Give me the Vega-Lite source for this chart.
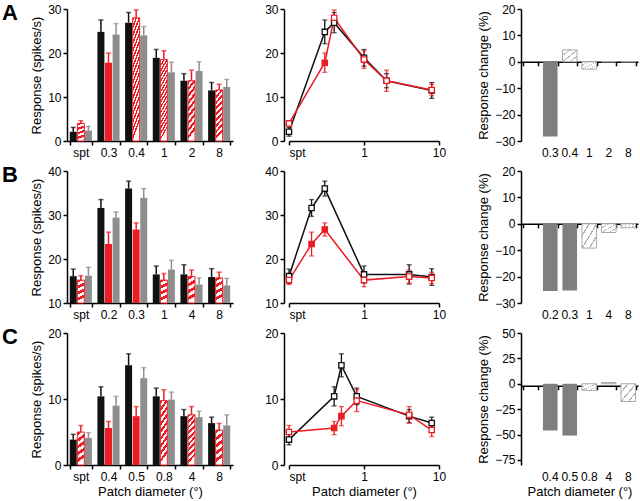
{
"$schema":"https://vega.github.io/schema/vega-lite/v6.json",
"padding":{"left":2,"top":2,"right":2,"bottom":2},
"background":"white",
"config":{
 "view":{"stroke":null},
 "font":"Liberation Sans",
 "axis":{"domainColor":"#000","domainWidth":1.5,"tickColor":"#000","tickWidth":1.5,"tickSize":4,"labelColor":"#000","labelFontSize":12,"labelPadding":2,"titleFontSize":13,"titleFontWeight":"normal","titleColor":"#000","grid":false,"labelFlush":false,"labelOverlap":false},
 "title":{"color":"#000"}
},
"datasets":{
 "A":[
  {"cond":"Pre","size":"spt","d":0.1,"mean":2.1,"lo":1.1,"hi":3.1,"sig":false},
  {"cond":"Pre","size":"0.3","d":0.3,"mean":24.8,"lo":22.1,"hi":27.5,"sig":false},
  {"cond":"Pre","size":"0.4","d":0.4,"mean":26.9,"lo":24.6,"hi":29.2,"sig":false},
  {"cond":"Pre","size":"1","d":1,"mean":18.9,"lo":17.0,"hi":20.8,"sig":false},
  {"cond":"Pre","size":"2","d":2,"mean":13.7,"lo":12.1,"hi":15.3,"sig":false},
  {"cond":"Pre","size":"8","d":8,"mean":11.5,"lo":9.7,"hi":13.3,"sig":false},
  {"cond":"Inact","size":"spt","d":0.1,"mean":4.0,"lo":3.4,"hi":4.6,"sig":false},
  {"cond":"Inact","size":"0.3","d":0.3,"mean":17.8,"lo":15.6,"hi":20.0,"sig":true},
  {"cond":"Inact","size":"0.4","d":0.4,"mean":28.0,"lo":26.2,"hi":29.8,"sig":false},
  {"cond":"Inact","size":"1","d":1,"mean":18.5,"lo":16.5,"hi":20.5,"sig":false},
  {"cond":"Inact","size":"2","d":2,"mean":13.7,"lo":11.3,"hi":16.1,"sig":false},
  {"cond":"Inact","size":"8","d":8,"mean":11.6,"lo":10.3,"hi":12.9,"sig":false},
  {"cond":"Rec","size":"spt","d":0.1,"mean":2.4,"lo":1.5,"hi":3.3,"sig":false},
  {"cond":"Rec","size":"0.3","d":0.3,"mean":24.2,"lo":21.7,"hi":26.7,"sig":false},
  {"cond":"Rec","size":"0.4","d":0.4,"mean":24.0,"lo":22.0,"hi":26.0,"sig":false},
  {"cond":"Rec","size":"1","d":1,"mean":15.6,"lo":13.3,"hi":17.9,"sig":false},
  {"cond":"Rec","size":"2","d":2,"mean":15.9,"lo":13.8,"hi":18.0,"sig":false},
  {"cond":"Rec","size":"8","d":8,"mean":12.3,"lo":10.6,"hi":14.0,"sig":false}
 ],
 "B":[
  {"cond":"Pre","size":"spt","d":0.1,"mean":16.1,"lo":14.5,"hi":17.7,"sig":false},
  {"cond":"Pre","size":"0.2","d":0.2,"mean":31.6,"lo":29.7,"hi":33.5,"sig":false},
  {"cond":"Pre","size":"0.3","d":0.3,"mean":36.0,"lo":34.3,"hi":37.7,"sig":false},
  {"cond":"Pre","size":"1","d":1,"mean":16.5,"lo":14.6,"hi":18.4,"sig":false},
  {"cond":"Pre","size":"4","d":4,"mean":16.5,"lo":14.3,"hi":18.7,"sig":false},
  {"cond":"Pre","size":"8","d":8,"mean":15.9,"lo":14.0,"hi":17.8,"sig":false},
  {"cond":"Inact","size":"spt","d":0.1,"mean":15.2,"lo":14.2,"hi":16.2,"sig":false},
  {"cond":"Inact","size":"0.2","d":0.2,"mean":23.4,"lo":20.7,"hi":26.1,"sig":true},
  {"cond":"Inact","size":"0.3","d":0.3,"mean":26.7,"lo":25.2,"hi":28.2,"sig":true},
  {"cond":"Inact","size":"1","d":1,"mean":15.2,"lo":13.7,"hi":16.7,"sig":false},
  {"cond":"Inact","size":"4","d":4,"mean":16.0,"lo":14.5,"hi":17.5,"sig":false},
  {"cond":"Inact","size":"8","d":8,"mean":15.7,"lo":14.4,"hi":17.0,"sig":false},
  {"cond":"Rec","size":"spt","d":0.1,"mean":16.2,"lo":14.3,"hi":18.1,"sig":false},
  {"cond":"Rec","size":"0.2","d":0.2,"mean":29.4,"lo":28.1,"hi":30.7,"sig":false},
  {"cond":"Rec","size":"0.3","d":0.3,"mean":33.9,"lo":31.8,"hi":36.0,"sig":false},
  {"cond":"Rec","size":"1","d":1,"mean":17.6,"lo":15.5,"hi":19.7,"sig":false},
  {"cond":"Rec","size":"4","d":4,"mean":14.2,"lo":12.7,"hi":15.7,"sig":false},
  {"cond":"Rec","size":"8","d":8,"mean":14.0,"lo":12.4,"hi":15.6,"sig":false}
 ],
 "C":[
  {"cond":"Pre","size":"spt","d":0.1,"mean":3.85,"lo":3.05,"hi":4.65,"sig":false},
  {"cond":"Pre","size":"0.4","d":0.4,"mean":10.4,"lo":8.95,"hi":11.85,"sig":false},
  {"cond":"Pre","size":"0.5","d":0.5,"mean":15.1,"lo":13.35,"hi":16.85,"sig":false},
  {"cond":"Pre","size":"0.8","d":0.8,"mean":10.4,"lo":9.15,"hi":11.65,"sig":false},
  {"cond":"Pre","size":"4","d":4,"mean":7.4,"lo":6.4,"hi":8.4,"sig":false},
  {"cond":"Pre","size":"8","d":8,"mean":6.35,"lo":5.45,"hi":7.25,"sig":false},
  {"cond":"Inact","size":"spt","d":0.1,"mean":5.0,"lo":4.0,"hi":6.0,"sig":false},
  {"cond":"Inact","size":"0.4","d":0.4,"mean":5.6,"lo":4.6,"hi":6.6,"sig":true},
  {"cond":"Inact","size":"0.5","d":0.5,"mean":7.4,"lo":5.95,"hi":8.85,"sig":true},
  {"cond":"Inact","size":"0.8","d":0.8,"mean":9.75,"lo":8.1,"hi":11.4,"sig":false},
  {"cond":"Inact","size":"4","d":4,"mean":7.6,"lo":6.35,"hi":8.85,"sig":false},
  {"cond":"Inact","size":"8","d":8,"mean":5.3,"lo":4.3,"hi":6.3,"sig":false},
  {"cond":"Rec","size":"spt","d":0.1,"mean":4.1,"lo":3.3,"hi":4.9,"sig":false},
  {"cond":"Rec","size":"0.4","d":0.4,"mean":9.0,"lo":7.6,"hi":10.4,"sig":false},
  {"cond":"Rec","size":"0.5","d":0.5,"mean":13.15,"lo":11.55,"hi":14.75,"sig":false},
  {"cond":"Rec","size":"0.8","d":0.8,"mean":9.9,"lo":8.75,"hi":11.05,"sig":false},
  {"cond":"Rec","size":"4","d":4,"mean":7.25,"lo":6.35,"hi":8.15,"sig":false},
  {"cond":"Rec","size":"8","d":8,"mean":6.0,"lo":4.4,"hi":7.6,"sig":false}
 ],
 "Ach":[
  {"size":"0.3","change":-28.3,"sig":true},
  {"size":"0.4","change":4.5,"sig":false},
  {"size":"1","change":-2.8,"sig":false},
  {"size":"2","change":0,"sig":false},
  {"size":"8","change":0,"sig":false}
 ],
 "Bch":[
  {"size":"0.2","change":-25.5,"sig":true},
  {"size":"0.3","change":-25.3,"sig":true},
  {"size":"1","change":-9.2,"sig":false},
  {"size":"4","change":-3.3,"sig":false},
  {"size":"8","change":-1.5,"sig":false}
 ],
 "Cch":[
  {"size":"0.4","change":-46,"sig":true},
  {"size":"0.5","change":-51,"sig":true},
  {"size":"0.8","change":-6.5,"sig":false},
  {"size":"4","change":1.2,"sig":false},
  {"size":"8","change":-17.5,"sig":false}
 ]
},
"columns":3,
"spacing":{"row":6,"column":31},
"concat":[
 {
  "width":166,"height":132,
  "title":{"text":"A","anchor":"start","frame":"group","fontSize":22,"fontWeight":"bold","dx":-65,"baseline":"top","offset":-22},
  "data":{"name":"A"},
  "encoding":{
   "x":{"field":"size","type":"nominal","scale":{"domain":["spt","0.3","0.4","1","2","8"],"paddingInner":0.2,"paddingOuter":0.1},"axis":{"title":null,"labelAngle":0,"tickBand":"extent"}},
   "xOffset":{"field":"cond","type":"nominal","scale":{"domain":["Pre","Inact","Rec"],"paddingInner":0.08}}
  },
  "layer":[
   {"transform":[{"filter":"datum.cond != 'Inact' || datum.sig"}],"mark":{"type":"bar"},"encoding":{"y":{"field":"mean","type":"quantitative","scale":{"domain":[0,30]},"axis":{"values":[0,10,20,30],"title":"Response (spikes/s)"}},"color":{"field":"cond","type":"nominal","scale":{"domain":["Pre","Inact","Rec"],"range":["#111111","#ed1c24","#8e8e8e"]},"legend":null}}},
   {"transform":[{"filter":"datum.cond == 'Inact' && !datum.sig && indexof(['0.4','1'], datum.size) >= 0"}],"mark":{"type":"bar","stroke":"#ed1c24","strokeWidth":1,"fill":{"gradient":"linear","x1":0,"y1":0,"x2":0.15,"y2":1,"stops":[{"offset":0,"color":"#ed1c24"},{"offset":0.03125,"color":"#ed1c24"},{"offset":0.03125,"color":"#fff"},{"offset":0.0625,"color":"#fff"},{"offset":0.0625,"color":"#ed1c24"},{"offset":0.09375,"color":"#ed1c24"},{"offset":0.09375,"color":"#fff"},{"offset":0.125,"color":"#fff"},{"offset":0.125,"color":"#ed1c24"},{"offset":0.15625,"color":"#ed1c24"},{"offset":0.15625,"color":"#fff"},{"offset":0.1875,"color":"#fff"},{"offset":0.1875,"color":"#ed1c24"},{"offset":0.21875,"color":"#ed1c24"},{"offset":0.21875,"color":"#fff"},{"offset":0.25,"color":"#fff"},{"offset":0.25,"color":"#ed1c24"},{"offset":0.28125,"color":"#ed1c24"},{"offset":0.28125,"color":"#fff"},{"offset":0.3125,"color":"#fff"},{"offset":0.3125,"color":"#ed1c24"},{"offset":0.34375,"color":"#ed1c24"},{"offset":0.34375,"color":"#fff"},{"offset":0.375,"color":"#fff"},{"offset":0.375,"color":"#ed1c24"},{"offset":0.40625,"color":"#ed1c24"},{"offset":0.40625,"color":"#fff"},{"offset":0.4375,"color":"#fff"},{"offset":0.4375,"color":"#ed1c24"},{"offset":0.46875,"color":"#ed1c24"},{"offset":0.46875,"color":"#fff"},{"offset":0.5,"color":"#fff"},{"offset":0.5,"color":"#ed1c24"},{"offset":0.53125,"color":"#ed1c24"},{"offset":0.53125,"color":"#fff"},{"offset":0.5625,"color":"#fff"},{"offset":0.5625,"color":"#ed1c24"},{"offset":0.59375,"color":"#ed1c24"},{"offset":0.59375,"color":"#fff"},{"offset":0.625,"color":"#fff"},{"offset":0.625,"color":"#ed1c24"},{"offset":0.65625,"color":"#ed1c24"},{"offset":0.65625,"color":"#fff"},{"offset":0.6875,"color":"#fff"},{"offset":0.6875,"color":"#ed1c24"},{"offset":0.71875,"color":"#ed1c24"},{"offset":0.71875,"color":"#fff"},{"offset":0.75,"color":"#fff"},{"offset":0.75,"color":"#ed1c24"},{"offset":0.78125,"color":"#ed1c24"},{"offset":0.78125,"color":"#fff"},{"offset":0.8125,"color":"#fff"},{"offset":0.8125,"color":"#ed1c24"},{"offset":0.84375,"color":"#ed1c24"},{"offset":0.84375,"color":"#fff"},{"offset":0.875,"color":"#fff"},{"offset":0.875,"color":"#ed1c24"},{"offset":0.90625,"color":"#ed1c24"},{"offset":0.90625,"color":"#fff"},{"offset":0.9375,"color":"#fff"},{"offset":0.9375,"color":"#ed1c24"},{"offset":0.96875,"color":"#ed1c24"},{"offset":0.96875,"color":"#fff"},{"offset":1,"color":"#fff"}]}},"encoding":{"y":{"field":"mean","type":"quantitative"}}},
   {"transform":[{"filter":"datum.cond == 'Inact' && !datum.sig && indexof(['2','8'], datum.size) >= 0"}],"mark":{"type":"bar","stroke":"#ed1c24","strokeWidth":1,"fill":{"gradient":"linear","x1":0,"y1":0,"x2":0.15,"y2":1,"stops":[{"offset":0,"color":"#ed1c24"},{"offset":0.0556,"color":"#ed1c24"},{"offset":0.0556,"color":"#fff"},{"offset":0.1111,"color":"#fff"},{"offset":0.1111,"color":"#ed1c24"},{"offset":0.1667,"color":"#ed1c24"},{"offset":0.1667,"color":"#fff"},{"offset":0.2222,"color":"#fff"},{"offset":0.2222,"color":"#ed1c24"},{"offset":0.2778,"color":"#ed1c24"},{"offset":0.2778,"color":"#fff"},{"offset":0.3333,"color":"#fff"},{"offset":0.3333,"color":"#ed1c24"},{"offset":0.3889,"color":"#ed1c24"},{"offset":0.3889,"color":"#fff"},{"offset":0.4444,"color":"#fff"},{"offset":0.4444,"color":"#ed1c24"},{"offset":0.5,"color":"#ed1c24"},{"offset":0.5,"color":"#fff"},{"offset":0.5556,"color":"#fff"},{"offset":0.5556,"color":"#ed1c24"},{"offset":0.6111,"color":"#ed1c24"},{"offset":0.6111,"color":"#fff"},{"offset":0.6667,"color":"#fff"},{"offset":0.6667,"color":"#ed1c24"},{"offset":0.7222,"color":"#ed1c24"},{"offset":0.7222,"color":"#fff"},{"offset":0.7778,"color":"#fff"},{"offset":0.7778,"color":"#ed1c24"},{"offset":0.8333,"color":"#ed1c24"},{"offset":0.8333,"color":"#fff"},{"offset":0.8889,"color":"#fff"},{"offset":0.8889,"color":"#ed1c24"},{"offset":0.9444,"color":"#ed1c24"},{"offset":0.9444,"color":"#fff"},{"offset":1,"color":"#fff"}]}},"encoding":{"y":{"field":"mean","type":"quantitative"}}},
   {"transform":[{"filter":"datum.cond == 'Inact' && !datum.sig && indexof(['spt'], datum.size) >= 0"}],"mark":{"type":"bar","stroke":"#ed1c24","strokeWidth":1,"fill":{"gradient":"linear","x1":0,"y1":0,"x2":0.15,"y2":1,"stops":[{"offset":0,"color":"#ed1c24"},{"offset":0.125,"color":"#ed1c24"},{"offset":0.125,"color":"#fff"},{"offset":0.25,"color":"#fff"},{"offset":0.25,"color":"#ed1c24"},{"offset":0.375,"color":"#ed1c24"},{"offset":0.375,"color":"#fff"},{"offset":0.5,"color":"#fff"},{"offset":0.5,"color":"#ed1c24"},{"offset":0.625,"color":"#ed1c24"},{"offset":0.625,"color":"#fff"},{"offset":0.75,"color":"#fff"},{"offset":0.75,"color":"#ed1c24"},{"offset":0.875,"color":"#ed1c24"},{"offset":0.875,"color":"#fff"},{"offset":1,"color":"#fff"}]}},"encoding":{"y":{"field":"mean","type":"quantitative"}}},
   {"mark":{"type":"rule","strokeWidth":1.5},"encoding":{"y":{"field":"mean","type":"quantitative"},"y2":{"field":"hi"},"color":{"field":"cond","type":"nominal","legend":null}}},
   {"mark":{"type":"tick","orient":"horizontal","size":5,"thickness":1.5},"encoding":{"y":{"field":"hi","type":"quantitative"},"color":{"field":"cond","type":"nominal","legend":null}}}
  ]
 },
 {
  "width":150,"height":132,
  "data":{"name":"A"},
  "transform":[{"filter":"datum.cond != 'Rec'"}],
  "encoding":{"x":{"field":"d","type":"quantitative","scale":{"type":"log","domain":[0.1,10]},"axis":{"title":null,"values":[0.1,1,10],"labelExpr":"datum.value < 0.5 ? 'spt' : datum.label","labelAlign":{"condition":{"test":"datum.value < 0.5","value":"left"},"value":"center"}}}},
  "layer":[
   {"mark":{"type":"line","strokeWidth":1.5},"encoding":{"y":{"field":"mean","type":"quantitative","scale":{"domain":[0,30]},"axis":{"values":[0,10,20,30],"title":null,"offset":5}},"color":{"field":"cond","type":"nominal","scale":{"domain":["Pre","Inact","Rec"],"range":["#111111","#ed1c24","#8e8e8e"]},"legend":null}}},
   {"mark":{"type":"rule","strokeWidth":1.3},"encoding":{"y":{"field":"lo","type":"quantitative"},"y2":{"field":"hi"},"color":{"field":"cond","type":"nominal","legend":null}}},
   {"mark":{"type":"tick","orient":"horizontal","size":5,"thickness":1.3},"encoding":{"y":{"field":"hi","type":"quantitative"},"color":{"field":"cond","type":"nominal","legend":null}}},
   {"mark":{"type":"tick","orient":"horizontal","size":5,"thickness":1.3},"encoding":{"y":{"field":"lo","type":"quantitative"},"color":{"field":"cond","type":"nominal","legend":null}}},
   {"mark":{"type":"point","shape":"square","filled":true,"fill":"white","size":28,"strokeWidth":1.3,"opacity":1},"encoding":{"y":{"field":"mean","type":"quantitative"},"stroke":{"field":"cond","type":"nominal","scale":{"domain":["Pre","Inact","Rec"],"range":["#111111","#ed1c24","#8e8e8e"]},"legend":null}}},
   {"transform":[{"filter":"datum.sig"}],"mark":{"type":"point","shape":"square","filled":true,"size":28,"opacity":1},"encoding":{"y":{"field":"mean","type":"quantitative"},"color":{"field":"cond","type":"nominal","legend":null}}}
  ]
 },
 {
  "width":117,"height":132,
  "data":{"name":"Ach"},
  "layer":[
   {"transform":[{"filter":"datum.sig"}],"mark":{"type":"bar","color":"#7f7f7f"},"encoding":{"x":{"field":"size","type":"nominal","scale":{"domain":["spt","0.3","0.4","1","2","8"],"paddingInner":0.25,"paddingOuter":0.125},"axis":{"orient":"bottom","offset":-79.2,"labels":false,"tickBand":"extent","title":null}},"y":{"field":"change","type":"quantitative","scale":{"domain":[-30,20]},"axis":{"values":[-30,-20,-10,0,10,20],"labelOverlap":false,"title":"Response change (%)"}}}},
   {"transform":[{"filter":"!datum.sig"}],"mark":{"type":"bar","stroke":"#a8a8a8","strokeWidth":1,"fill":{"gradient":"linear","x1":0,"y1":0,"x2":1,"y2":1,"stops":[{"offset":0,"color":"#fff"},{"offset":0.22,"color":"#fff"},{"offset":0.22,"color":"#b0b0b0"},{"offset":0.27,"color":"#b0b0b0"},{"offset":0.27,"color":"#fff"},{"offset":0.48,"color":"#fff"},{"offset":0.48,"color":"#b0b0b0"},{"offset":0.53,"color":"#b0b0b0"},{"offset":0.53,"color":"#fff"},{"offset":0.73,"color":"#fff"},{"offset":0.73,"color":"#b0b0b0"},{"offset":0.78,"color":"#b0b0b0"},{"offset":0.78,"color":"#fff"},{"offset":1,"color":"#fff"}]}},"encoding":{"x":{"field":"size","type":"nominal","axis":{"orient":"bottom","domain":false,"ticks":false,"labelPadding":6,"labelExpr":"datum.label == 'spt' ? '' : datum.label","labelAngle":0,"title":null}},"y":{"field":"change","type":"quantitative","axis":{"values":[-30,-20,-10,0,10,20],"labelOverlap":false,"title":"Response change (%)"}}}}
  ],
  "resolve":{"axis":{"x":"independent"}}
 },
 {
  "width":166,"height":132,
  "title":{"text":"B","anchor":"start","frame":"group","fontSize":22,"fontWeight":"bold","dx":-65,"baseline":"top","offset":-22},
  "data":{"name":"B"},
  "encoding":{
   "x":{"field":"size","type":"nominal","scale":{"domain":["spt","0.2","0.3","1","4","8"],"paddingInner":0.2,"paddingOuter":0.1},"axis":{"title":null,"labelAngle":0,"tickBand":"extent"}},
   "xOffset":{"field":"cond","type":"nominal","scale":{"domain":["Pre","Inact","Rec"],"paddingInner":0.08}}
  },
  "layer":[
   {"transform":[{"filter":"datum.cond != 'Inact' || datum.sig"}],"mark":{"type":"bar"},"encoding":{"y":{"field":"mean","type":"quantitative","scale":{"domain":[10,40],"zero":false},"axis":{"values":[10,20,30,40],"title":"Response (spikes/s)"}},"y2":{"datum":10},"color":{"field":"cond","type":"nominal","scale":{"domain":["Pre","Inact","Rec"],"range":["#111111","#ed1c24","#8e8e8e"]},"legend":null}}},
   {"transform":[{"filter":"datum.cond == 'Inact' && !datum.sig"}],"mark":{"type":"bar","stroke":"#ed1c24","strokeWidth":1,"fill":{"gradient":"linear","x1":0,"y1":0,"x2":0.15,"y2":1,"stops":[{"offset":0,"color":"#ed1c24"},{"offset":0.125,"color":"#ed1c24"},{"offset":0.125,"color":"#fff"},{"offset":0.25,"color":"#fff"},{"offset":0.25,"color":"#ed1c24"},{"offset":0.375,"color":"#ed1c24"},{"offset":0.375,"color":"#fff"},{"offset":0.5,"color":"#fff"},{"offset":0.5,"color":"#ed1c24"},{"offset":0.625,"color":"#ed1c24"},{"offset":0.625,"color":"#fff"},{"offset":0.75,"color":"#fff"},{"offset":0.75,"color":"#ed1c24"},{"offset":0.875,"color":"#ed1c24"},{"offset":0.875,"color":"#fff"},{"offset":1,"color":"#fff"}]}},"encoding":{"y":{"field":"mean","type":"quantitative"},"y2":{"datum":10}}},
   {"mark":{"type":"rule","strokeWidth":1.5},"encoding":{"y":{"field":"mean","type":"quantitative"},"y2":{"field":"hi"},"color":{"field":"cond","type":"nominal","legend":null}}},
   {"mark":{"type":"tick","orient":"horizontal","size":5,"thickness":1.5},"encoding":{"y":{"field":"hi","type":"quantitative"},"color":{"field":"cond","type":"nominal","legend":null}}}
  ]
 },
 {
  "width":150,"height":132,
  "data":{"name":"B"},
  "transform":[{"filter":"datum.cond != 'Rec'"}],
  "encoding":{"x":{"field":"d","type":"quantitative","scale":{"type":"log","domain":[0.1,10]},"axis":{"title":null,"values":[0.1,1,10],"labelExpr":"datum.value < 0.5 ? 'spt' : datum.label","labelAlign":{"condition":{"test":"datum.value < 0.5","value":"left"},"value":"center"}}}},
  "layer":[
   {"mark":{"type":"line","strokeWidth":1.5},"encoding":{"y":{"field":"mean","type":"quantitative","scale":{"domain":[10,40],"zero":false},"axis":{"values":[10,20,30,40],"title":null,"offset":5}},"color":{"field":"cond","type":"nominal","scale":{"domain":["Pre","Inact","Rec"],"range":["#111111","#ed1c24","#8e8e8e"]},"legend":null}}},
   {"mark":{"type":"rule","strokeWidth":1.3},"encoding":{"y":{"field":"lo","type":"quantitative"},"y2":{"field":"hi"},"color":{"field":"cond","type":"nominal","legend":null}}},
   {"mark":{"type":"tick","orient":"horizontal","size":5,"thickness":1.3},"encoding":{"y":{"field":"hi","type":"quantitative"},"color":{"field":"cond","type":"nominal","legend":null}}},
   {"mark":{"type":"tick","orient":"horizontal","size":5,"thickness":1.3},"encoding":{"y":{"field":"lo","type":"quantitative"},"color":{"field":"cond","type":"nominal","legend":null}}},
   {"mark":{"type":"point","shape":"square","filled":true,"fill":"white","size":28,"strokeWidth":1.3,"opacity":1},"encoding":{"y":{"field":"mean","type":"quantitative"},"stroke":{"field":"cond","type":"nominal","scale":{"domain":["Pre","Inact","Rec"],"range":["#111111","#ed1c24","#8e8e8e"]},"legend":null}}},
   {"transform":[{"filter":"datum.sig"}],"mark":{"type":"point","shape":"square","filled":true,"size":28,"opacity":1},"encoding":{"y":{"field":"mean","type":"quantitative"},"color":{"field":"cond","type":"nominal","legend":null}}}
  ]
 },
 {
  "width":117,"height":132,
  "data":{"name":"Bch"},
  "layer":[
   {"transform":[{"filter":"datum.sig"}],"mark":{"type":"bar","color":"#7f7f7f"},"encoding":{"x":{"field":"size","type":"nominal","scale":{"domain":["spt","0.2","0.3","1","4","8"],"paddingInner":0.25,"paddingOuter":0.125},"axis":{"orient":"bottom","offset":-79.2,"labels":false,"tickBand":"extent","title":null}},"y":{"field":"change","type":"quantitative","scale":{"domain":[-30,20]},"axis":{"values":[-30,-20,-10,0,10,20],"labelOverlap":false,"title":"Response change (%)"}}}},
   {"transform":[{"filter":"!datum.sig"}],"mark":{"type":"bar","stroke":"#a8a8a8","strokeWidth":1,"fill":{"gradient":"linear","x1":0,"y1":0,"x2":1,"y2":1,"stops":[{"offset":0,"color":"#fff"},{"offset":0.22,"color":"#fff"},{"offset":0.22,"color":"#b0b0b0"},{"offset":0.27,"color":"#b0b0b0"},{"offset":0.27,"color":"#fff"},{"offset":0.48,"color":"#fff"},{"offset":0.48,"color":"#b0b0b0"},{"offset":0.53,"color":"#b0b0b0"},{"offset":0.53,"color":"#fff"},{"offset":0.73,"color":"#fff"},{"offset":0.73,"color":"#b0b0b0"},{"offset":0.78,"color":"#b0b0b0"},{"offset":0.78,"color":"#fff"},{"offset":1,"color":"#fff"}]}},"encoding":{"x":{"field":"size","type":"nominal","axis":{"orient":"bottom","domain":false,"ticks":false,"labelPadding":6,"labelExpr":"datum.label == 'spt' ? '' : datum.label","labelAngle":0,"title":null}},"y":{"field":"change","type":"quantitative","axis":{"values":[-30,-20,-10,0,10,20],"labelOverlap":false,"title":"Response change (%)"}}}}
  ],
  "resolve":{"axis":{"x":"independent"}}
 },
 {
  "width":166,"height":132,
  "title":{"text":"C","anchor":"start","frame":"group","fontSize":22,"fontWeight":"bold","dx":-65,"baseline":"top","offset":-22},
  "data":{"name":"C"},
  "encoding":{
   "x":{"field":"size","type":"nominal","scale":{"domain":["spt","0.4","0.5","0.8","4","8"],"paddingInner":0.2,"paddingOuter":0.1},"axis":{"title":"Patch diameter (°)","titleFontSize":13,"titlePadding":3,"labelAngle":0,"tickBand":"extent"}},
   "xOffset":{"field":"cond","type":"nominal","scale":{"domain":["Pre","Inact","Rec"],"paddingInner":0.08}}
  },
  "layer":[
   {"transform":[{"filter":"datum.cond != 'Inact' || datum.sig"}],"mark":{"type":"bar"},"encoding":{"y":{"field":"mean","type":"quantitative","scale":{"domain":[0,20]},"axis":{"values":[0,10,20],"title":"Response (spikes/s)"}},"color":{"field":"cond","type":"nominal","scale":{"domain":["Pre","Inact","Rec"],"range":["#111111","#ed1c24","#8e8e8e"]},"legend":null}}},
   {"transform":[{"filter":"datum.cond == 'Inact' && !datum.sig && indexof(['0.8','4'], datum.size) >= 0"}],"mark":{"type":"bar","stroke":"#ed1c24","strokeWidth":1,"fill":{"gradient":"linear","x1":0,"y1":0,"x2":0.15,"y2":1,"stops":[{"offset":0,"color":"#ed1c24"},{"offset":0.0556,"color":"#ed1c24"},{"offset":0.0556,"color":"#fff"},{"offset":0.1111,"color":"#fff"},{"offset":0.1111,"color":"#ed1c24"},{"offset":0.1667,"color":"#ed1c24"},{"offset":0.1667,"color":"#fff"},{"offset":0.2222,"color":"#fff"},{"offset":0.2222,"color":"#ed1c24"},{"offset":0.2778,"color":"#ed1c24"},{"offset":0.2778,"color":"#fff"},{"offset":0.3333,"color":"#fff"},{"offset":0.3333,"color":"#ed1c24"},{"offset":0.3889,"color":"#ed1c24"},{"offset":0.3889,"color":"#fff"},{"offset":0.4444,"color":"#fff"},{"offset":0.4444,"color":"#ed1c24"},{"offset":0.5,"color":"#ed1c24"},{"offset":0.5,"color":"#fff"},{"offset":0.5556,"color":"#fff"},{"offset":0.5556,"color":"#ed1c24"},{"offset":0.6111,"color":"#ed1c24"},{"offset":0.6111,"color":"#fff"},{"offset":0.6667,"color":"#fff"},{"offset":0.6667,"color":"#ed1c24"},{"offset":0.7222,"color":"#ed1c24"},{"offset":0.7222,"color":"#fff"},{"offset":0.7778,"color":"#fff"},{"offset":0.7778,"color":"#ed1c24"},{"offset":0.8333,"color":"#ed1c24"},{"offset":0.8333,"color":"#fff"},{"offset":0.8889,"color":"#fff"},{"offset":0.8889,"color":"#ed1c24"},{"offset":0.9444,"color":"#ed1c24"},{"offset":0.9444,"color":"#fff"},{"offset":1,"color":"#fff"}]}},"encoding":{"y":{"field":"mean","type":"quantitative"}}},
   {"transform":[{"filter":"datum.cond == 'Inact' && !datum.sig && indexof(['spt','8'], datum.size) >= 0"}],"mark":{"type":"bar","stroke":"#ed1c24","strokeWidth":1,"fill":{"gradient":"linear","x1":0,"y1":0,"x2":0.15,"y2":1,"stops":[{"offset":0,"color":"#ed1c24"},{"offset":0.1,"color":"#ed1c24"},{"offset":0.1,"color":"#fff"},{"offset":0.2,"color":"#fff"},{"offset":0.2,"color":"#ed1c24"},{"offset":0.3,"color":"#ed1c24"},{"offset":0.3,"color":"#fff"},{"offset":0.4,"color":"#fff"},{"offset":0.4,"color":"#ed1c24"},{"offset":0.5,"color":"#ed1c24"},{"offset":0.5,"color":"#fff"},{"offset":0.6,"color":"#fff"},{"offset":0.6,"color":"#ed1c24"},{"offset":0.7,"color":"#ed1c24"},{"offset":0.7,"color":"#fff"},{"offset":0.8,"color":"#fff"},{"offset":0.8,"color":"#ed1c24"},{"offset":0.9,"color":"#ed1c24"},{"offset":0.9,"color":"#fff"},{"offset":1,"color":"#fff"}]}},"encoding":{"y":{"field":"mean","type":"quantitative"}}},
   {"mark":{"type":"rule","strokeWidth":1.5},"encoding":{"y":{"field":"mean","type":"quantitative"},"y2":{"field":"hi"},"color":{"field":"cond","type":"nominal","legend":null}}},
   {"mark":{"type":"tick","orient":"horizontal","size":5,"thickness":1.5},"encoding":{"y":{"field":"hi","type":"quantitative"},"color":{"field":"cond","type":"nominal","legend":null}}}
  ]
 },
 {
  "width":150,"height":132,
  "data":{"name":"C"},
  "transform":[{"filter":"datum.cond != 'Rec'"}],
  "encoding":{"x":{"field":"d","type":"quantitative","scale":{"type":"log","domain":[0.1,10]},"axis":{"title":"Patch diameter (°)","titleFontSize":13,"titlePadding":3,"values":[0.1,1,10],"labelExpr":"datum.value < 0.5 ? 'spt' : datum.label","labelAlign":{"condition":{"test":"datum.value < 0.5","value":"left"},"value":"center"}}}},
  "layer":[
   {"mark":{"type":"line","strokeWidth":1.5},"encoding":{"y":{"field":"mean","type":"quantitative","scale":{"domain":[0,20]},"axis":{"values":[0,10,20],"title":null,"offset":5}},"color":{"field":"cond","type":"nominal","scale":{"domain":["Pre","Inact","Rec"],"range":["#111111","#ed1c24","#8e8e8e"]},"legend":null}}},
   {"mark":{"type":"rule","strokeWidth":1.3},"encoding":{"y":{"field":"lo","type":"quantitative"},"y2":{"field":"hi"},"color":{"field":"cond","type":"nominal","legend":null}}},
   {"mark":{"type":"tick","orient":"horizontal","size":5,"thickness":1.3},"encoding":{"y":{"field":"hi","type":"quantitative"},"color":{"field":"cond","type":"nominal","legend":null}}},
   {"mark":{"type":"tick","orient":"horizontal","size":5,"thickness":1.3},"encoding":{"y":{"field":"lo","type":"quantitative"},"color":{"field":"cond","type":"nominal","legend":null}}},
   {"mark":{"type":"point","shape":"square","filled":true,"fill":"white","size":28,"strokeWidth":1.3,"opacity":1},"encoding":{"y":{"field":"mean","type":"quantitative"},"stroke":{"field":"cond","type":"nominal","scale":{"domain":["Pre","Inact","Rec"],"range":["#111111","#ed1c24","#8e8e8e"]},"legend":null}}},
   {"transform":[{"filter":"datum.sig"}],"mark":{"type":"point","shape":"square","filled":true,"size":28,"opacity":1},"encoding":{"y":{"field":"mean","type":"quantitative"},"color":{"field":"cond","type":"nominal","legend":null}}}
  ]
 },
 {
  "width":117,"height":132,
  "data":{"name":"Cch"},
  "layer":[
   {"transform":[{"filter":"datum.sig"}],"mark":{"type":"bar","color":"#7f7f7f"},"encoding":{"x":{"field":"size","type":"nominal","scale":{"domain":["spt","0.4","0.5","0.8","4","8"],"paddingInner":0.25,"paddingOuter":0.125},"axis":{"orient":"bottom","offset":-79.2,"labels":false,"tickBand":"extent","title":null}},"y":{"field":"change","type":"quantitative","scale":{"domain":[-75,50]},"axis":{"values":[-75,-50,-25,0,25,50],"labelOverlap":false,"title":"Response change (%)"}}}},
   {"transform":[{"filter":"!datum.sig"}],"mark":{"type":"bar","stroke":"#a8a8a8","strokeWidth":1,"fill":{"gradient":"linear","x1":0,"y1":0,"x2":1,"y2":1,"stops":[{"offset":0,"color":"#fff"},{"offset":0.22,"color":"#fff"},{"offset":0.22,"color":"#b0b0b0"},{"offset":0.27,"color":"#b0b0b0"},{"offset":0.27,"color":"#fff"},{"offset":0.48,"color":"#fff"},{"offset":0.48,"color":"#b0b0b0"},{"offset":0.53,"color":"#b0b0b0"},{"offset":0.53,"color":"#fff"},{"offset":0.73,"color":"#fff"},{"offset":0.73,"color":"#b0b0b0"},{"offset":0.78,"color":"#b0b0b0"},{"offset":0.78,"color":"#fff"},{"offset":1,"color":"#fff"}]}},"encoding":{"x":{"field":"size","type":"nominal","axis":{"orient":"bottom","domain":false,"ticks":false,"labelPadding":6,"labelExpr":"datum.label == 'spt' ? '' : datum.label","labelAngle":0,"title":"Patch diameter (°)","titleFontSize":13,"titlePadding":3}},"y":{"field":"change","type":"quantitative","axis":{"values":[-75,-50,-25,0,25,50],"labelOverlap":false,"title":"Response change (%)"}}}}
  ],
  "resolve":{"axis":{"x":"independent"}}
 }
]
}
